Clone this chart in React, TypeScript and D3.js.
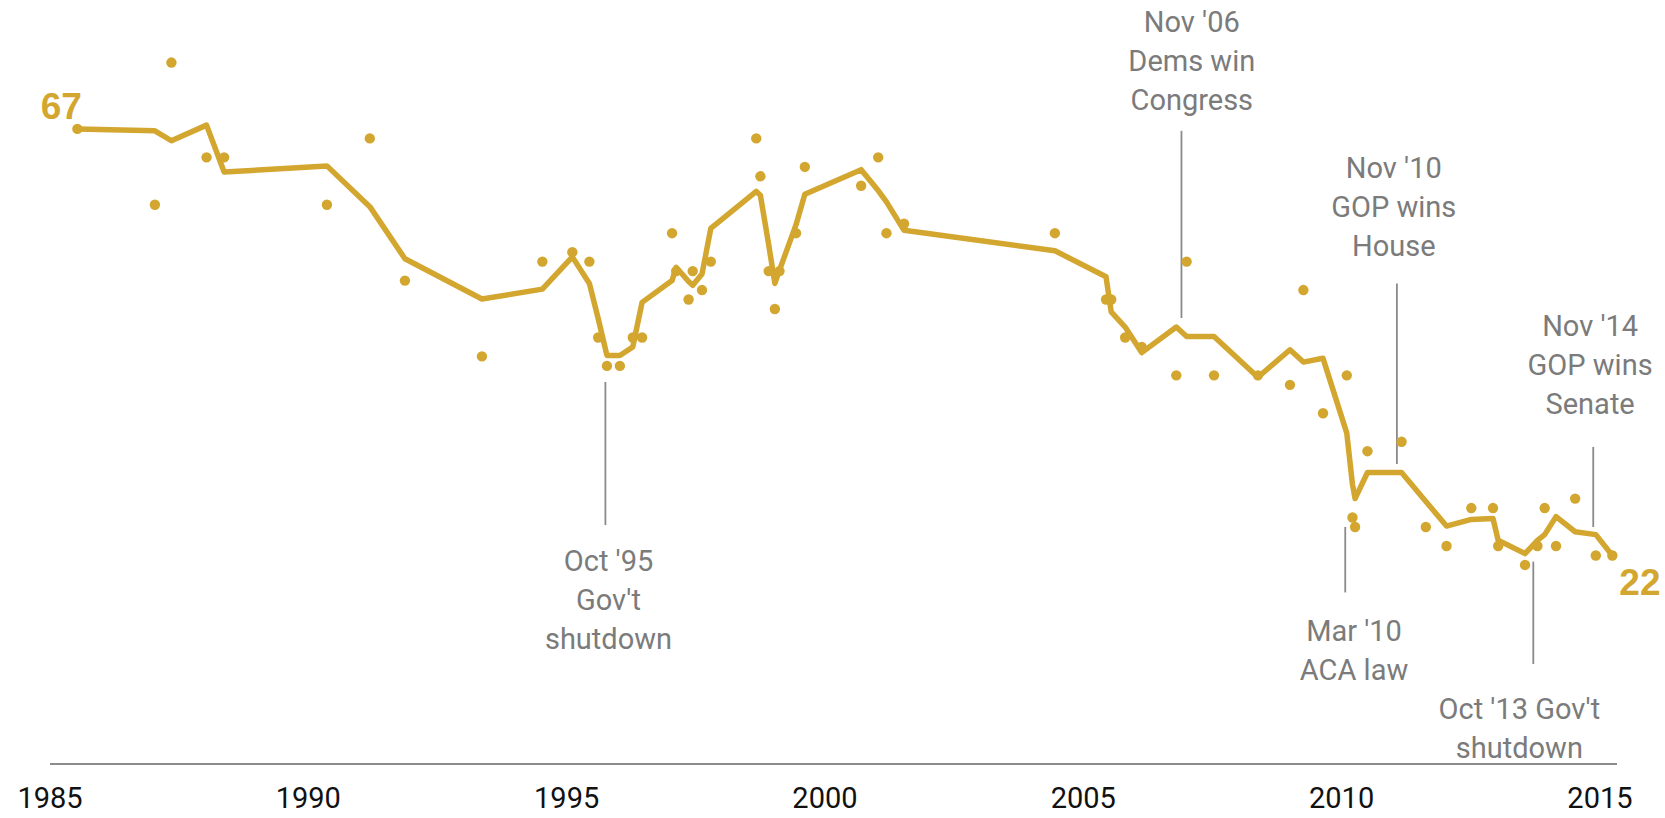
import React from "react";
import * as d3 from "d3";

// Survey dates (decimal years)
const surveyDates: number[] = [
  1985.53, 1987.03, 1987.35, 1988.03, 1988.37, 1990.36, 1991.19, 1991.87,
  1993.36, 1994.53, 1995.11, 1995.44, 1995.61, 1995.78, 1996.03, 1996.28,
  1996.46, 1997.04, 1997.12, 1997.36, 1997.44, 1997.62, 1997.79, 1998.67,
  1998.75, 1998.91, 1999.03, 1999.12, 1999.44, 1999.61, 2000.7, 2001.03,
  2001.19, 2001.53, 2004.45, 2005.44, 2005.54, 2005.81, 2006.13, 2006.8,
  2007.0, 2007.53, 2008.38, 2009.0, 2009.26, 2009.64, 2010.1, 2010.21,
  2010.26, 2010.5, 2011.16, 2011.63, 2012.03, 2012.51, 2012.93, 2013.03,
  2013.55, 2013.79, 2013.93, 2014.15, 2014.52, 2014.92, 2015.24,
];

// Individual survey values (dots)
const surveyValues: number[] = [
  67, 59, 74, 64, 64, 59, 66, 51,
  43, 53, 54, 53, 45, 42, 42, 45,
  45, 56, 52, 49, 52, 50, 53, 66,
  62, 52, 48, 52, 56, 63, 61, 64,
  56, 57, 56, 49, 49, 45, 44, 41,
  53, 41, 41, 40, 50, 37, 41, 26,
  25, 33, 34, 25, 23, 27, 27, 23,
  21, 23, 27, 23, 28, 22, 22,
];

// Smoothed trend values (line)
const trendValues: number[] = [
  67.0, 66.8, 65.75, 67.4, 62.45, 63.1, 58.8, 53.3,
  49.05, 50.1, 53.5, 50.7, 47.0, 43.1, 43.1, 44.0,
  48.7, 51.0, 52.4, 50.9, 50.5, 51.7, 56.5, 60.4,
  60.0, 54.8, 50.7, 52.1, 56.9, 60.1, 62.7, 60.5,
  59.3, 56.3, 54.15, 51.4, 47.7, 46.1, 43.4, 46.1,
  45.1, 45.1, 40.8, 43.7, 42.4, 42.8, 34.9, 29.5,
  28.0, 30.75, 30.75, 27.7, 25.1, 25.8, 25.9, 23.6,
  22.2, 23.6, 24.2, 26.1, 24.5, 24.2, 22.0,
];

const tickYears: number[] = [1985, 1990, 1995, 2000, 2005, 2010, 2015];

// Annotations: label lines, date of the leader line, date of text centre,
// leader line from/to (value units), first text baseline (value units)
const annotationLabels: string[][] = [
  ["Oct '95", "Gov't", "shutdown"],
  ["Nov '06", "Dems win", "Congress"],
  ["Mar '10", "ACA law"],
  ["Nov '10", "GOP wins", "House"],
  ["Oct '13 Gov't", "shutdown"],
  ["Nov '14", "GOP wins", "Senate"],
];
const annotationDates: number[] = [1995.75, 2006.9, 2010.07, 2011.07, 2013.71, 2014.87];
const annotationTextDates: number[] = [1995.81, 2007.1, 2010.24, 2011.01, 2013.44, 2014.81];
const annotationLineFrom: number[] = [40.3, 66.8, 25.0, 50.7, 21.35, 33.45];
const annotationLineTo: number[] = [25.2, 47.05, 18.1, 31.65, 10.55, 25.0];
const annotationTextValues: number[] = [20.35, 77.2, 13.0, 61.8, 4.7, 45.15];

const GOLD = "#D3A62F";
const GREY = "#7b7b7b";

export default function App() {
  const width = 1665;
  const height = 818;

  const x = d3.scaleLinear().domain([1985, 2015.33]).range([50, 1617]);
  const y = d3.scaleLinear().domain([0, 80.6]).range([764, 0]);

  const points = surveyDates.map((d, i) => ({ t: d, v: surveyValues[i], m: trendValues[i] }));

  const line = d3
    .line<{ t: number; m: number }>()
    .x((d) => x(d.t))
    .y((d) => y(d.m));

  const lineH = 38.8;
  const font = "Roboto, 'Liberation Sans', Arial, sans-serif";

  const first = points[0];
  const last = points[points.length - 1];

  return (
    <div style={{ position: "fixed", left: 0, top: 0, background: "#fff" }}>
      <svg width={width} height={height} style={{ display: "block" }}>
        <rect x={0} y={0} width={width} height={height} fill="#fff" />

        {/* axis baseline */}
        <line
          x1={x(1985)}
          x2={x(2015.33)}
          y1={y(0)}
          y2={y(0)}
          stroke="#8c8c8c"
          strokeWidth={2}
        />

        {/* tick labels */}
        {tickYears.map((yr) => (
          <text
            key={yr}
            x={x(yr)}
            y={808}
            textAnchor="middle"
            fontFamily={font}
            fontSize={29}
            fill="#111"
          >
            {yr}
          </text>
        ))}

        {/* annotations */}
        {annotationLabels.map((lines, i) => (
          <g key={i}>
            <line
              x1={x(annotationDates[i])}
              x2={x(annotationDates[i])}
              y1={y(annotationLineFrom[i])}
              y2={y(annotationLineTo[i])}
              stroke="#8a8a8a"
              strokeWidth={1.8}
            />
            {lines.map((s, j) => (
              <text
                key={j}
                x={x(annotationTextDates[i])}
                y={y(annotationTextValues[i]) + j * lineH}
                textAnchor="middle"
                fontFamily={font}
                fontSize={29}
                fill={GREY}
              >
                {s}
              </text>
            ))}
          </g>
        ))}

        {/* trend line */}
        <path
          d={line(points) || ""}
          fill="none"
          stroke={GOLD}
          strokeWidth={5.5}
          strokeLinejoin="round"
          strokeLinecap="round"
        />

        {/* survey dots */}
        {points.map((p, i) => (
          <circle key={i} cx={x(p.t)} cy={y(p.v)} r={5.2} fill={GOLD} />
        ))}

        {/* end labels */}
        <text
          x={x(first.t) - 16}
          y={y(first.m) - 10}
          textAnchor="middle"
          fontFamily="'Liberation Sans', Arial, sans-serif"
          fontWeight="bold"
          fontSize={37}
          fill={GOLD}
        >
          {first.v}
        </text>
        <text
          x={x(last.t) + 7}
          y={y(last.m) + 40}
          textAnchor="start"
          fontFamily="'Liberation Sans', Arial, sans-serif"
          fontWeight="bold"
          fontSize={37}
          fill={GOLD}
        >
          {last.v}
        </text>
      </svg>
    </div>
  );
}
